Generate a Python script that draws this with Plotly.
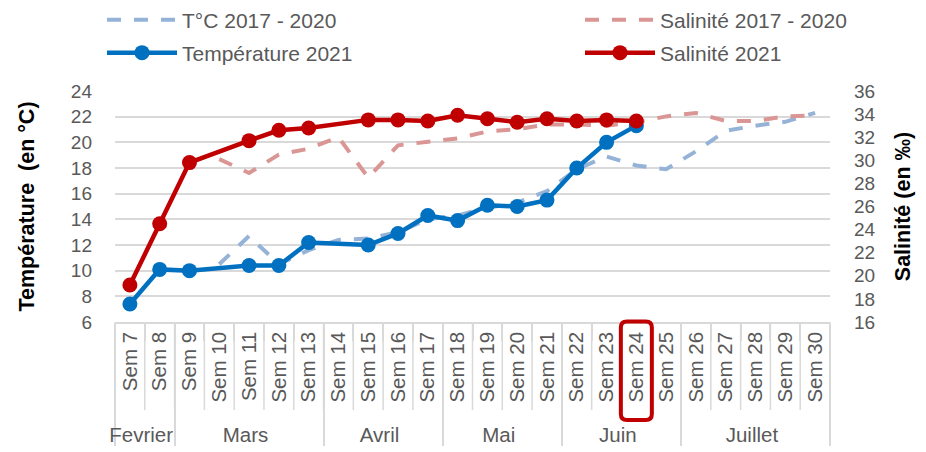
import plotly.graph_objects as go

weeks = ["Sem 7", "Sem 8", "Sem 9", "Sem 10", "Sem 11", "Sem 12", "Sem 13", "Sem 14",
         "Sem 15", "Sem 16", "Sem 17", "Sem 18", "Sem 19", "Sem 20", "Sem 21", "Sem 22",
         "Sem 23", "Sem 24", "Sem 25", "Sem 26", "Sem 27", "Sem 28", "Sem 29", "Sem 30"]
months = ["Fevrier", "Fevrier",
          "Mars", "Mars", "Mars", "Mars", "Mars",
          "Avril", "Avril", "Avril", "Avril",
          "Mai", "Mai", "Mai", "Mai",
          "Juin", "Juin", "Juin", "Juin",
          "Juillet", "Juillet", "Juillet", "Juillet", "Juillet"]

temp_hist = [None, None, None, 10.5, 12.7, 10.5, 11.6, 12.4, 12.5, 13.0, 14.0, 14.3,
             14.9, 15.3, 16.2, 17.9, 18.9, 18.2, 17.9, 19.3, 20.9, 21.3, 21.6, 22.3]
sal_hist = [None, None, None, 30.1, 28.9, 30.5, 31.0, 32.0, 28.5, 31.3, 31.6, 31.9,
            32.5, 32.7, 33.1, 33.1, 33.0, 33.3, 33.8, 34.1, 33.4, 33.4, 33.8, 33.9]
temp_2021 = [7.4, 10.1, 10.0, None, 10.4, 10.4, 12.2, None, 12.0, 12.9, 14.3, 13.9,
             15.1, 15.0, 15.5, 18.0, 20.0, 21.3, None, None, None, None, None, None]
sal_2021 = [19.2, 24.5, 29.8, None, 31.7, 32.6, 32.8, None, 33.5, 33.5, 33.4, 33.9,
            33.6, 33.3, 33.6, 33.4, 33.5, 33.4, None, None, None, None, None, None]

highlight_week = "Sem 24"

FONT = "Liberation Sans, Arial, sans-serif"
GRAY = "#595959"
GRID = "#d9d9d9"

x = [months, weeks]

fig = go.Figure()
fig.add_trace(go.Scatter(x=x, y=temp_hist, name="T°C 2017 - 2020", mode="lines",
                         line=dict(color="#95B3D7", width=4, dash="14px,13px"),
                         connectgaps=True, legend="legend"))
fig.add_trace(go.Scatter(x=x, y=sal_hist, name="Salinité 2017 - 2020", mode="lines",
                         line=dict(color="#DA9694", width=4, dash="14px,13px"),
                         connectgaps=True, yaxis="y2", legend="legend2"))
fig.add_trace(go.Scatter(x=x, y=temp_2021, name="Température 2021", mode="lines+markers",
                         line=dict(color="#0070C0", width=4.5),
                         marker=dict(color="#0070C0", size=15),
                         connectgaps=True, legend="legend3"))
fig.add_trace(go.Scatter(x=x, y=sal_2021, name="Salinité 2021", mode="lines+markers",
                         line=dict(color="#C00000", width=4.5),
                         marker=dict(color="#C00000", size=15),
                         connectgaps=True, yaxis="y2", legend="legend4"))

W, H = 926, 452
ML, MR, MT, MB = 115, 96, 91, 130
PW, PH = W - ML - MR, H - MT - MB
n = len(weeks)

shapes = []
# category boundary lines below the axis
for i in range(n + 1):
    shapes.append(dict(type="line", xref="paper", yref="paper",
                       x0=i / n, x1=i / n, y0=0, y1=-88 / PH,
                       line=dict(color=GRID, width=1.5), layer="below"))
# highlight box around a week label
k = weeks.index(highlight_week)
cx = (k + 0.5) / n
hx = 15.5 / PW
y0, y1 = -98 / PH, 0.5 / PH
rx, ry = 6 / PW, 6 / PH
path = (f"M {cx-hx+rx},{y1} L {cx+hx-rx},{y1} Q {cx+hx},{y1} {cx+hx},{y1-ry} "
        f"L {cx+hx},{y0+ry} Q {cx+hx},{y0} {cx+hx-rx},{y0} "
        f"L {cx-hx+rx},{y0} Q {cx-hx},{y0} {cx-hx},{y0+ry} "
        f"L {cx-hx},{y1-ry} Q {cx-hx},{y1} {cx-hx+rx},{y1} Z")
shapes.append(dict(type="path", xref="paper", yref="paper", path=path,
                   line=dict(color="#C00000", width=4)))


def leg(px, py):
    return dict(orientation="h", xref="container", yref="container",
                x=px / W, y=1 - py / H, xanchor="left", yanchor="middle",
                bgcolor="rgba(0,0,0,0)", borderwidth=0,
                font=dict(family=FONT, size=21, color=GRAY), itemwidth=70)


fig.update_layout(
    width=W, height=H,
    margin=dict(l=ML, r=MR, t=MT, b=MB, autoexpand=False),
    paper_bgcolor="white", plot_bgcolor="white",
    font=dict(family=FONT, size=19, color=GRAY),
    showlegend=True,
    legend=leg(102, 20),
    legend2=leg(580, 20),
    legend3=leg(102, 53),
    legend4=leg(580, 53),
    xaxis=dict(type="multicategory", tickangle=-90, showgrid=False, automargin=False,
               range=[-0.5, n - 0.5],
               showline=True, linecolor=GRID, linewidth=1.5,
               ticks="outside", ticklen=17, tickcolor=GRID, tickwidth=1.5,
               showdividers=True, dividercolor=GRID, dividerwidth=1.5,
               tickfont=dict(family=FONT, size=20.5, color=GRAY)),
    yaxis=dict(range=[6, 24], dtick=2, showgrid=True, gridcolor=GRID, gridwidth=1.5,
               zeroline=False, ticks="", ticklabelstandoff=22, automargin=False,
               tickfont=dict(family=FONT, size=19, color=GRAY),
               title=dict(text="<b>Température  (en °C)</b>", standoff=30,
                          font=dict(family=FONT, size=21.5, color="black"))),
    yaxis2=dict(range=[16, 36], dtick=2, overlaying="y", side="right", showgrid=False,
                zeroline=False, ticks="", ticklabelstandoff=23, automargin=False,
                tickfont=dict(family=FONT, size=19, color=GRAY),
                title=dict(text="<b>Salinité (en ‰)</b>", standoff=20,
                           font=dict(family=FONT, size=21.5, color="black"))),
    shapes=shapes,
)

fig.write_html("out.html")
